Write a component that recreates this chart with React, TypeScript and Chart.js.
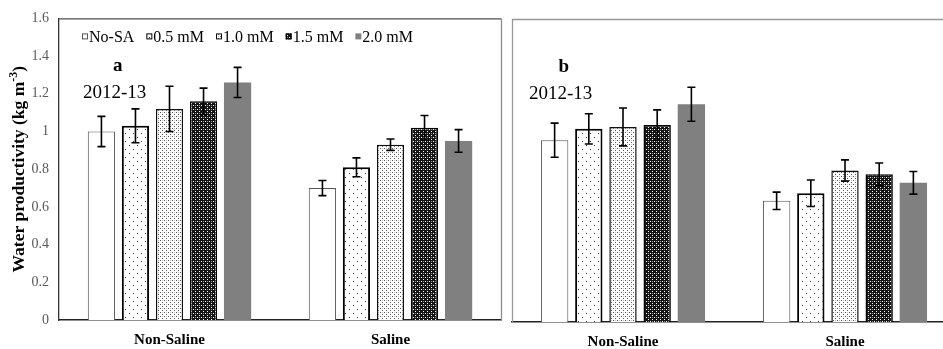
import React, { useEffect, useRef } from "react";
import { Chart, registerables } from "chart.js";

Chart.register(...registerables);

const SERIF = "'Liberation Serif', 'Times New Roman', serif";
Chart.defaults.font.family = SERIF;

// Groups and treatments
const categories = ["Non-Saline", "Saline"];
const seriesLabels = ["No-SA", "0.5 mM", "1.0 mM", "1.5 mM", "2.0 mM"];

// y-axis range and step (kg m-3)
const yMin = 0;
const yMax = 1.6;
const yStep = 0.2;

// Panel a (2012-13) means and error bars
const aNoSA = [1.0, 0.7];
const aSA05 = [1.03, 0.81];
const aSA10 = [1.12, 0.93];
const aSA15 = [1.16, 1.02];
const aSA20 = [1.26, 0.95];
const aNoSAErr = [0.08, 0.04];
const aSA05Err = [0.09, 0.05];
const aSA10Err = [0.12, 0.03];
const aSA15Err = [0.07, 0.065];
const aSA20Err = [0.08, 0.06];

// Panel b (2012-13) means and error bars
const bNoSA = [0.96, 0.64];
const bSA05 = [1.02, 0.68];
const bSA10 = [1.03, 0.8];
const bSA15 = [1.04, 0.78];
const bSA20 = [1.15, 0.735];
const bNoSAErr = [0.09, 0.046];
const bSA05Err = [0.08, 0.07];
const bSA10Err = [0.1, 0.056];
const bSA15Err = [0.08, 0.06];
const bSA20Err = [0.09, 0.06];

const panelLetters = ["a", "b"];
const seasonLabel = "2012-13";

type Fill = string | CanvasPattern;

function makePattern(size: number, draw: (c: CanvasRenderingContext2D) => void): Fill {
  const tile = document.createElement("canvas");
  tile.width = size;
  tile.height = size;
  const c = tile.getContext("2d")!;
  draw(c);
  return c.createPattern(tile, "repeat") || "#fff";
}

function buildStyles() {
  const sparseDots = makePattern(8, (c) => {
    c.fillStyle = "#fff";
    c.fillRect(0, 0, 8, 8);
    c.fillStyle = "#333";
    c.fillRect(1, 1, 1, 1);
    c.fillRect(5, 5, 1, 1);
  });
  const fineDots = makePattern(4, (c) => {
    c.fillStyle = "#fff";
    c.fillRect(0, 0, 4, 4);
    c.fillStyle = "#555";
    c.fillRect(0, 0, 1, 1);
    c.fillRect(2, 2, 1, 1);
    c.fillStyle = "#c4c4c4";
    c.fillRect(2, 0, 1, 1);
  });
  const darkCheck = makePattern(4, (c) => {
    c.fillStyle = "#151515";
    c.fillRect(0, 0, 4, 4);
    c.fillStyle = "#fff";
    c.fillRect(1, 1, 1, 1);
    c.fillRect(3, 3, 1, 1);
    c.fillStyle = "#8a8a8a";
    c.fillRect(3, 1, 1, 1);
  });
  return [
    { fill: "#ffffff" as Fill, border: "#555555", width: 1 },
    { fill: sparseDots, border: "#000000", width: 2 },
    { fill: fineDots, border: "#111111", width: 1.5 },
    { fill: darkCheck, border: "#000000", width: 1.5 },
    { fill: "#808080" as Fill, border: "#808080", width: 0 },
  ];
}

const errorBars = {
  id: "errorBars",
  afterDatasetsDraw(chart: any) {
    const ctx = chart.ctx as CanvasRenderingContext2D;
    const y = chart.scales.y;
    chart.data.datasets.forEach((ds: any, di: number) => {
      const meta = chart.getDatasetMeta(di);
      meta.data.forEach((bar: any, i: number) => {
        const v = ds.data[i];
        const e = ds.errors[i];
        const top = y.getPixelForValue(v + e);
        const bot = y.getPixelForValue(v - e);
        ctx.save();
        ctx.strokeStyle = "#000";
        ctx.lineWidth = 1.6;
        ctx.beginPath();
        ctx.moveTo(bar.x, top);
        ctx.lineTo(bar.x, bot);
        ctx.moveTo(bar.x - 4, top);
        ctx.lineTo(bar.x + 4, top);
        ctx.moveTo(bar.x - 4, bot);
        ctx.lineTo(bar.x + 4, bot);
        ctx.stroke();
        ctx.restore();
      });
    });
  },
};

function framePlugin(sides: { top?: string; right?: string; left?: string }) {
  return {
    id: "frame",
    afterDraw(chart: any) {
      const { left, right, top, bottom } = chart.chartArea;
      const ctx = chart.ctx as CanvasRenderingContext2D;
      ctx.save();
      ctx.lineWidth = 1.3;
      if (sides.top) {
        ctx.strokeStyle = sides.top;
        ctx.beginPath();
        ctx.moveTo(left, top + 0.5);
        ctx.lineTo(right, top + 0.5);
        ctx.stroke();
      }
      if (sides.right) {
        ctx.strokeStyle = sides.right;
        ctx.beginPath();
        ctx.moveTo(right + 0.5, top);
        ctx.lineTo(right + 0.5, bottom);
        ctx.stroke();
      }
      if (sides.left) {
        ctx.strokeStyle = sides.left;
        ctx.beginPath();
        ctx.moveTo(left + 0.5, top);
        ctx.lineTo(left + 0.5, bottom);
        ctx.stroke();
      }
      ctx.restore();
    },
  };
}

function panelLabelPlugin(letter: string, dx: number) {
  return {
    id: "panelLabel",
    afterDraw(chart: any) {
      const { left, top } = chart.chartArea;
      const ctx = chart.ctx as CanvasRenderingContext2D;
      ctx.save();
      ctx.fillStyle = "#000";
      ctx.textBaseline = "middle";
      ctx.textAlign = "left";
      ctx.font = `19px ${SERIF}`;
      const w = ctx.measureText(seasonLabel).width;
      ctx.fillText(seasonLabel, left + dx, top + 75);
      ctx.textAlign = "center";
      ctx.font = `bold 19px ${SERIF}`;
      ctx.fillText(letter, left + dx + w * 0.55, top + 48);
      ctx.restore();
    },
  };
}

function legendPlugin(styles: ReturnType<typeof buildStyles>) {
  return {
    id: "innerLegend",
    afterDraw(chart: any) {
      const { left, top } = chart.chartArea;
      const ctx = chart.ctx as CanvasRenderingContext2D;
      ctx.save();
      ctx.font = `16px ${SERIF}`;
      ctx.textBaseline = "middle";
      ctx.textAlign = "left";
      let x = left + 23;
      const cy = top + 18;
      seriesLabels.forEach((label, i) => {
        const s = styles[i];
        ctx.fillStyle = s.fill;
        ctx.fillRect(x, cy - 3, 6, 6);
        if (s.width > 0) {
          ctx.strokeStyle = s.border;
          ctx.lineWidth = 1;
          ctx.strokeRect(x + 0.5, cy - 2.5, 5, 5);
        }
        ctx.fillStyle = "#000";
        ctx.fillText(label, x + 7, cy + 1);
        x += 7 + ctx.measureText(label).width + 12;
      });
      ctx.restore();
    },
  };
}

const yTitlePlugin = {
  id: "yTitle",
  afterDraw(chart: any) {
    const { left, top, bottom } = chart.chartArea;
    const ctx = chart.ctx as CanvasRenderingContext2D;
    const main = "Water productivity (kg m";
    const sup = "-3";
    const tail = ")";
    ctx.save();
    ctx.fillStyle = "#000";
    ctx.textBaseline = "middle";
    ctx.textAlign = "left";
    const big = `bold 17.5px ${SERIF}`;
    const small = `bold 12px ${SERIF}`;
    ctx.font = big;
    const w1 = ctx.measureText(main).width;
    const w3 = ctx.measureText(tail).width;
    ctx.font = small;
    const w2 = ctx.measureText(sup).width;
    const total = w1 + w2 + w3;
    ctx.translate(left - 40, (top + bottom) / 2);
    ctx.rotate(-Math.PI / 2);
    let x = -total / 2;
    ctx.font = big;
    ctx.fillText(main, x, 0);
    x += w1;
    ctx.font = small;
    ctx.fillText(sup, x, -5);
    x += w2;
    ctx.font = big;
    ctx.fillText(tail, x, 0);
    ctx.restore();
  },
};

function makeDatasets(
  styles: ReturnType<typeof buildStyles>,
  values: number[][],
  errors: number[][]
) {
  return seriesLabels.map((label, i) => ({
    label,
    data: values[i],
    errors: errors[i],
    backgroundColor: styles[i].fill,
    borderColor: styles[i].border,
    borderWidth: styles[i].width,
    categoryPercentage: 0.77,
    barPercentage: 0.8,
  }));
}

function xScale(height: number) {
  return {
    type: "category" as const,
    grid: { display: false, drawTicks: false },
    border: { display: true, color: "#222", width: 1.5 },
    ticks: {
      color: "#000",
      padding: 11,
      font: { size: 15, weight: "bold" as const, family: SERIF },
      maxRotation: 0,
    },
    afterFit(scale: any) {
      scale.height = height;
    },
  };
}

function yRange() {
  return { min: yMin, max: yMax };
}

export default function App() {
  const refA = useRef<HTMLCanvasElement>(null);
  const refB = useRef<HTMLCanvasElement>(null);

  useEffect(() => {
    const styles = buildStyles();

    const chartA = new Chart(refA.current!, {
      type: "bar",
      data: {
        labels: categories,
        datasets: makeDatasets(
          styles,
          [aNoSA, aSA05, aSA10, aSA15, aSA20],
          [aNoSAErr, aSA05Err, aSA10Err, aSA15Err, aSA20Err]
        ) as any,
      },
      options: {
        responsive: false,
        animation: false,
        devicePixelRatio: 1,
        layout: { padding: { left: 0, top: 16, right: 4, bottom: 0 } },
        plugins: { legend: { display: false }, tooltip: { enabled: false } },
        scales: {
          x: xScale(29),
          y: {
            ...yRange(),
            grid: { display: false, drawTicks: false },
            border: { display: true, color: "#333", width: 1.3 },
            ticks: {
              stepSize: yStep,
              color: "#595959",
              padding: 10,
              font: { size: 14, family: SERIF },
              callback: (v: any) => String(Number(Number(v).toFixed(1))),
            },
            afterFit(scale: any) {
              scale.width = 59;
            },
          },
        },
      },
      plugins: [
        errorBars,
        framePlugin({ top: "#4d4d4d", right: "#8c8c8c" }),
        panelLabelPlugin(panelLetters[0], 24),
        legendPlugin(styles),
        yTitlePlugin,
      ],
    });

    const chartB = new Chart(refB.current!, {
      type: "bar",
      data: {
        labels: categories,
        datasets: makeDatasets(
          styles,
          [bNoSA, bSA05, bSA10, bSA15, bSA20],
          [bNoSAErr, bSA05Err, bSA10Err, bSA15Err, bSA20Err]
        ) as any,
      },
      options: {
        responsive: false,
        animation: false,
        devicePixelRatio: 1,
        layout: { padding: { left: 7, top: 19, right: 9, bottom: 0 } },
        plugins: { legend: { display: false }, tooltip: { enabled: false } },
        scales: {
          x: xScale(27),
          y: { ...yRange(), display: false },
        },
      },
      plugins: [
        errorBars,
        framePlugin({ top: "#999999", left: "#999999" }),
        panelLabelPlugin(panelLetters[1], 17),
      ],
    });

    return () => {
      chartA.destroy();
      chartB.destroy();
    };
  }, []);

  return (
    <div
      style={{
        position: "fixed",
        left: 0,
        top: 0,
        width: 943,
        height: 349,
        overflow: "hidden",
        background: "#fff",
      }}
    >
      <canvas
        ref={refA}
        width={505}
        height={349}
        style={{ position: "absolute", left: 0, top: 0, width: 505, height: 349 }}
      />
      <canvas
        ref={refB}
        width={460}
        height={349}
        style={{ position: "absolute", left: 505, top: 0, width: 460, height: 349 }}
      />
    </div>
  );
}
